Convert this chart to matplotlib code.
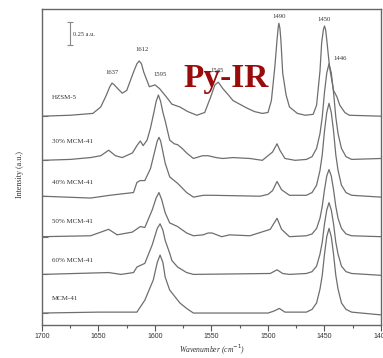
import matplotlib
matplotlib.use("Agg")
import matplotlib.pyplot as plt

# --- spectra: wavenumber (cm-1) and intensity above baseline (a.u.) ---
hzsm5_w = [1700, 1675, 1655, 1648, 1643, 1640, 1638, 1636, 1633, 1629, 1625, 1619, 1616,
           1614, 1612, 1610, 1605, 1600, 1596, 1590, 1585, 1578, 1571, 1563, 1556, 1551,
           1547, 1544, 1540, 1535, 1531, 1525, 1519, 1512, 1505, 1500, 1497, 1494, 1492,
           1491, 1490.4, 1489.5, 1488.6, 1487, 1484, 1481, 1474, 1467, 1460, 1457, 1454,
           1452.5, 1451, 1450, 1449, 1448, 1445.5, 1442, 1439, 1436.5, 1432, 1428, 1400]
hzsm5_i = [0, 0.01, 0.03, 0.10, 0.23, 0.32, 0.36, 0.34, 0.30, 0.25, 0.28, 0.48, 0.57,
           0.60, 0.57, 0.48, 0.32, 0.34, 0.30, 0.21, 0.13, 0.10, 0.05, 0.01, 0.04, 0.20,
           0.34, 0.37, 0.30, 0.23, 0.17, 0.13, 0.09, 0.05, 0.03, 0.04, 0.17, 0.53, 0.83,
           0.96, 1.01, 0.96, 0.83, 0.47, 0.23, 0.10, 0.03, 0.01, 0.02, 0.12, 0.49,
           0.80, 0.94, 0.98, 0.94, 0.83, 0.53, 0.28, 0.21, 0.12, 0.04, 0.01, 0]

m30_w = [1700, 1675, 1657, 1648, 1641, 1635, 1629, 1620, 1616, 1613, 1610.5, 1607, 1604,
         1601, 1599, 1597, 1595, 1593, 1591, 1587, 1583, 1580, 1576, 1572, 1566, 1558,
         1553, 1546, 1540, 1531, 1516, 1505, 1496, 1492, 1489.5, 1485, 1476, 1466, 1461,
         1457, 1454, 1452, 1450, 1448, 1446, 1444, 1442, 1440, 1438, 1435, 1431, 1426, 1400]
m30_i = [0, 0.01, 0.03, 0.05, 0.11, 0.05, 0.03, 0.08, 0.16, 0.21, 0.16, 0.22, 0.35,
         0.52, 0.64, 0.71, 0.64, 0.52, 0.43, 0.22, 0.18, 0.17, 0.13, 0.08, 0.02, 0.05,
         0.05, 0.03, 0.02, 0.03, 0.02, 0, 0.09, 0.18, 0.11, 0.02, 0, 0.01, 0.04,
         0.13, 0.29, 0.47, 0.74, 0.95, 1.05, 0.95, 0.74, 0.47, 0.29, 0.13, 0.04, 0.01, 0.02]

m40_w = [1700, 1657, 1640, 1619, 1616, 1613, 1609, 1604, 1600, 1598, 1596.5, 1595, 1593,
         1591, 1587, 1580, 1572, 1566, 1557, 1549, 1507, 1500, 1496, 1492, 1488, 1481,
         1466, 1461, 1457, 1454, 1452, 1450, 1448, 1446, 1444, 1442, 1440, 1438, 1435,
         1431, 1426, 1400]
m40_i = [0, -0.02, 0.01, 0.04, 0.15, 0.17, 0.17, 0.30, 0.50, 0.60, 0.64, 0.60, 0.48,
         0.36, 0.21, 0.14, 0.04, -0.01, 0.01, 0.01, 0, 0.02, 0.06, 0.16, 0.07, 0.01,
         0.01, 0.04, 0.12, 0.28, 0.45, 0.71, 0.91, 1.01, 0.91, 0.71, 0.45, 0.28, 0.12,
         0.04, 0.01, -0.01]

m50_w = [1700, 1657, 1641, 1633.5, 1620, 1613, 1609, 1602.5, 1599, 1596.5, 1594, 1591,
         1587, 1580, 1572, 1566, 1557.5, 1553, 1549.5, 1541, 1534, 1516, 1498, 1492, 1488,
         1481, 1466, 1461, 1457, 1454, 1452, 1450, 1448, 1446, 1444, 1442, 1440, 1438,
         1435, 1431, 1426, 1400]
m50_i = [0, 0.01, 0.08, 0.02, 0.05, 0.11, 0.10, 0.29, 0.42, 0.48, 0.40, 0.26,
         0.15, 0.11, 0.04, 0.01, 0.02, 0.04, 0.04, 0, 0.02, 0.01, 0.08, 0.20, 0.08,
         0, 0.01, 0.03, 0.09, 0.20, 0.33, 0.51, 0.66, 0.73, 0.66, 0.51, 0.33, 0.20,
         0.09, 0.03, 0.01, 0]

m60_w = [1700, 1641, 1630, 1619, 1616, 1609, 1602.5, 1598, 1595.5, 1593, 1591, 1587, 1585,
         1580, 1572, 1566, 1498, 1492, 1487, 1481, 1466, 1461, 1457, 1454, 1452, 1450,
         1448, 1446, 1444, 1442, 1440, 1438, 1435, 1431, 1426, 1400]
m60_i = [0, 0.02, 0, 0.02, 0.08, 0.12, 0.32, 0.50, 0.55, 0.48, 0.37, 0.23, 0.15,
         0.08, 0.02, 0, 0.01, 0.05, 0.01, 0, 0.01, 0.03, 0.09, 0.22, 0.35, 0.55,
         0.70, 0.78, 0.70, 0.55, 0.35, 0.22, 0.09, 0.03, 0.01, -0.01]

mcm_w = [1700, 1650, 1616, 1609, 1601.5, 1598, 1595.5, 1593, 1591, 1587, 1578, 1572, 1566,
         1500, 1495, 1490, 1485, 1466, 1461, 1457, 1454, 1452, 1450, 1448, 1446, 1444,
         1442, 1440, 1438, 1435, 1431, 1426, 1400]
mcm_i = [0, 0.01, 0.01, 0.14, 0.36, 0.55, 0.63, 0.55, 0.39, 0.25, 0.11, 0.05, 0,
         0, 0.02, 0.05, 0.01, 0.01, 0.04, 0.11, 0.26, 0.41, 0.64, 0.83, 0.92, 0.83,
         0.64, 0.41, 0.26, 0.11, 0.04, 0.01, -0.02]

samples = ["HZSM-5", "30% MCM-41", "40% MCM-41", "50% MCM-41", "60% MCM-41", "MCM-41"]
offsets = [2.27, 1.79, 1.40, 0.96, 0.55, 0.13]
label_y = [2.47, 2.00, 1.55, 1.12, 0.70, 0.29]

peak_labels = ["1637", "1612", "1595", "1545", "1490", "1450", "1446"]
peak_x = [1638, 1611.5, 1596, 1545, 1490, 1450.5, 1436]
peak_y = [2.74, 2.99, 2.72, 2.77, 3.35, 3.32, 2.90]

spectra = [(hzsm5_w, hzsm5_i), (m30_w, m30_i), (m40_w, m40_i),
           (m50_w, m50_i), (m60_w, m60_i), (mcm_w, mcm_i)]

SERIF = "Liberation Serif"
LINE = "#6e6e6e"
TXT = "#333333"

fig = plt.figure(figsize=(3.83, 3.58), dpi=100)
ax = fig.add_axes([42 / 383, 33 / 358, 339 / 383, 316 / 358])

for (w, i), off in zip(spectra, offsets):
    ax.plot(w, [v + off for v in i], color=LINE, lw=0.9, solid_joinstyle="round")

for name, y in zip(samples, label_y):
    ax.text(1691, y, name, fontsize=5.0, family=SERIF, color=TXT, va="center")

for lab, x, y in zip(peak_labels, peak_x, peak_y):
    ax.text(x, y, lab, fontsize=4.8, family=SERIF, color=TXT, ha="center", va="center")

# 0.25 a.u. scale bar
ax.errorbar([1675.4], [3.165], yerr=[0.125], color="#888888", lw=0.8,
            capsize=2.5, capthick=0.8)
ax.text(1672.3, 3.16, "0.25 a.u.", fontsize=4.5, family=SERIF, color=TXT, va="center")

ax.text(1537, 2.59, "Py-IR", fontsize=24, family=SERIF, fontweight="bold",
        color="#9a0c0c", ha="center", va="baseline")

ax.set_xlim(1700, 1400)
ax.set_ylim(0, 3.435)
ax.set_xticks([1700, 1650, 1600, 1550, 1500, 1450, 1400])
ax.set_xticks([1675, 1625, 1575, 1525, 1475, 1425], minor=True)
ax.set_yticks(offsets)
ax.set_yticklabels([])
ax.tick_params(axis="x", which="major", direction="out", length=4, width=0.8,
               colors="#555555", labelsize=5, labelcolor=TXT, pad=2)
ax.tick_params(axis="x", which="minor", direction="out", length=2.5, width=0.8,
               colors="#555555")
ax.tick_params(axis="y", direction="in", length=4, width=0.8, colors="#777777")
for lab in ax.get_xticklabels():
    lab.set_family("Liberation Sans")
for s in ax.spines.values():
    s.set_color("#666666")
    s.set_linewidth(1.0)

fig.text(212 / 383, 1 - 350 / 358, "Wavenumber (cm$^{-1}$)", fontsize=5.5,
         family=SERIF, style="italic", color=TXT, ha="center", va="center")
fig.text(20 / 383, 1 - 175 / 358, "Intensity (a.u.)", fontsize=5.8, family=SERIF,
         color=TXT, rotation=90, ha="center", va="center")

fig.savefig("out.png", dpi=100)
